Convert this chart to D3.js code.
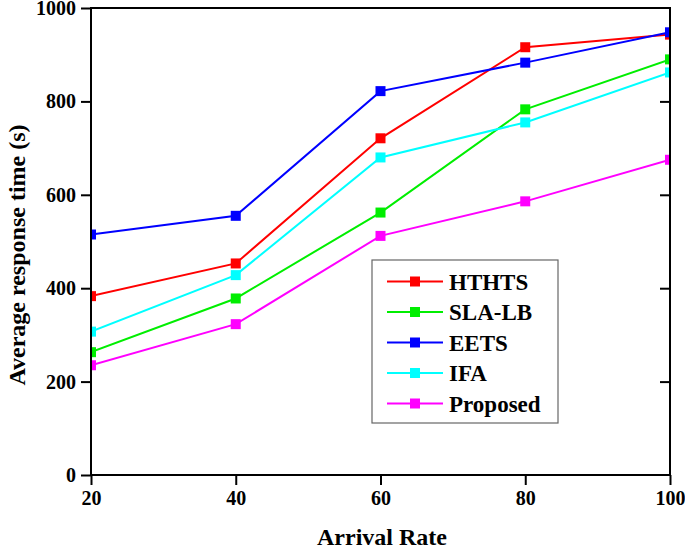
<!DOCTYPE html>
<html><head><meta charset="utf-8">
<script src="https://cdn.jsdelivr.net/npm/d3@7"></script>
<style>body{margin:0;background:#fff}</style>
</head><body>
<script>
const categories = [20, 40, 60, 80, 100];
const seriesNames = ["HTHTS", "SLA-LB", "EETS", "IFA", "Proposed"];
const HTHTS = [383, 453, 721, 916, 943];
const SLALB = [263, 378, 562, 783, 890];
const EETS = [515, 555, 822, 883, 948];
const IFA = [307, 428, 680, 755, 862];
const Proposed = [235, 323, 512, 586, 675];
const colors = ["#ff0000", "#00ee00", "#0000ff", "#00ffff", "#ff00ff"];
const yTicks = [0, 200, 400, 600, 800, 1000];
const xTicks = [20, 40, 60, 80, 100];
const seriesValues = [HTHTS, SLALB, EETS, IFA, Proposed];

const W = 685, H = 547;
const m = {l: 91, t: 8, r: 670, b: 475};
const font = "'Liberation Serif','Times New Roman',serif";
const svg = d3.select("body").append("svg").attr("width", W).attr("height", H);
const x = d3.scaleLinear().domain([20, 100]).range([m.l, m.r]);
const y = d3.scaleLinear().domain([0, 1000]).range([m.b, m.t]);

svg.append("clipPath").attr("id", "clip").append("rect")
  .attr("x", m.l).attr("y", m.t).attr("width", m.r - m.l).attr("height", m.b - m.t);

const g = svg.append("g").attr("clip-path", "url(#clip)");
const line = d3.line().x((d, i) => x(categories[i])).y(d => y(d));
seriesValues.forEach((vals, si) => {
  g.append("path").datum(vals).attr("d", line).attr("fill", "none")
    .attr("stroke", colors[si]).attr("stroke-width", 2);
  g.selectAll(null).data(vals).enter().append("rect")
    .attr("x", (d, i) => x(categories[i]) - 5).attr("y", d => y(d) - 5)
    .attr("width", 10).attr("height", 10).attr("fill", colors[si]);
});

// frame
svg.append("rect").attr("x", m.l).attr("y", m.t).attr("width", m.r - m.l).attr("height", m.b - m.t)
  .attr("fill", "none").attr("stroke", "#000").attr("stroke-width", 2);

const xa = svg.append("g").attr("transform", `translate(0,${m.b})`)
  .call(d3.axisBottom(x).tickValues(xTicks).tickSize(10).tickPadding(6).tickFormat(d3.format("d")));
const ya = svg.append("g").attr("transform", `translate(${m.l},0)`)
  .call(d3.axisLeft(y).tickValues(yTicks).tickSize(10).tickPadding(5).tickFormat(d3.format("d")));
const yr = svg.append("g").attr("transform", `translate(${m.r},0)`)
  .call(d3.axisLeft(y).tickValues(yTicks.slice(1, -1)).tickSize(10).tickFormat(""));
[xa, ya, yr].forEach(a => {
  a.select(".domain").remove();
  a.selectAll("line").attr("stroke", "#000").attr("stroke-width", 2);
  a.selectAll("text").attr("font-family", font).attr("font-weight", "bold")
    .attr("font-size", 20).attr("fill", "#000");
});

svg.append("text").attr("x", 382).attr("y", 545).attr("text-anchor", "middle")
  .attr("font-family", font).attr("font-weight", "bold").attr("font-size", 24).text("Arrival Rate");
svg.append("text").attr("transform", `translate(25,255) rotate(-90)`)
  .attr("text-anchor", "middle").attr("font-family", font).attr("font-weight", "bold")
  .attr("font-size", 24).text("Average response time (s)");

// legend
const lg = svg.append("g");
lg.append("rect").attr("x", 372).attr("y", 260).attr("width", 186).attr("height", 163)
  .attr("fill", "#fff").attr("stroke", "#666").attr("stroke-width", 1.2);
seriesNames.forEach((n, i) => {
  const yy = 281.5 + i * 30.5;
  lg.append("line").attr("x1", 387).attr("x2", 443).attr("y1", yy).attr("y2", yy)
    .attr("stroke", colors[i]).attr("stroke-width", 2);
  lg.append("rect").attr("x", 410).attr("y", yy - 5).attr("width", 10).attr("height", 10).attr("fill", colors[i]);
  lg.append("text").attr("x", 449).attr("y", yy + 8).attr("font-family", font)
    .attr("font-weight", "bold").attr("font-size", 23).text(n);
});
</script>
</body></html>
